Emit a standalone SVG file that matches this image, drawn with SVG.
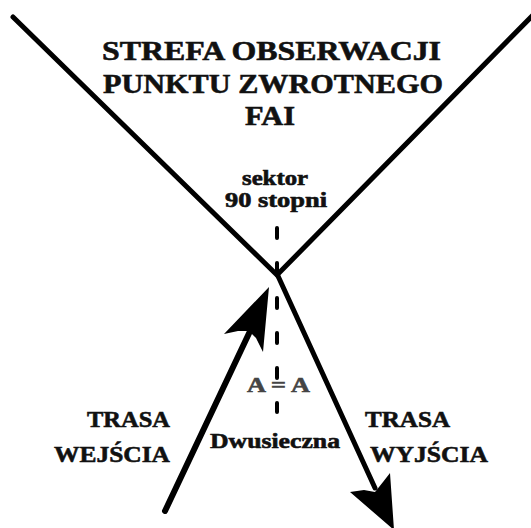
<svg xmlns="http://www.w3.org/2000/svg" width="531" height="528" viewBox="0 0 531 528">
<style>
text{font-family:'Liberation Serif','Times New Roman',serif;font-weight:700;fill:#111;stroke:#111;stroke-width:0.6;}
.ln{fill:none;stroke:#000;stroke-linecap:round;stroke-linejoin:miter;}
.ah{fill:#000;stroke:none;}
</style>
<rect width="531" height="528" fill="#fff"/>
<g id="connectors">
  <polyline class="ln" points="13,17 277,275 536,12" stroke-width="5"/>
  <line class="ln" x1="277" y1="228" x2="277" y2="412" stroke-width="4" stroke-dasharray="10 25" stroke-linecap="butt"/>
  <line class="ln" x1="165" y1="511" x2="252" y2="327" stroke-width="6"/>
  <path class="ah" d="M269,287 L263,352 L256,338 L249,331 L238,331 L224,334 Z"/>
  <line class="ln" x1="278" y1="276" x2="375" y2="488" stroke-width="5"/>
  <path class="ah" d="M394,530 L350,492 L364,490 L375,492 L383,482 L390,473 Z"/>
</g>
<g id="title">
  <text x="102" y="60" font-size="28" textLength="339" lengthAdjust="spacingAndGlyphs">STREFA  OBSERWACJI</text>
  <text x="103" y="93" font-size="28" textLength="340" lengthAdjust="spacingAndGlyphs">PUNKTU ZWROTNEGO</text>
  <text x="245" y="125" font-size="28" textLength="50" lengthAdjust="spacingAndGlyphs">FAI</text>
</g>
<g id="sektor">
  <text x="242" y="185" font-size="20" textLength="66" lengthAdjust="spacingAndGlyphs">sektor</text>
  <text x="225" y="207" font-size="20" textLength="102" lengthAdjust="spacingAndGlyphs">90 stopni</text>
</g>
<g id="angles">
  <text x="247" y="392" font-size="20" style="fill:#444;stroke:#444" textLength="63" lengthAdjust="spacingAndGlyphs">A = A</text>
</g>
<g id="bisector">
  <text x="210" y="448" font-size="22" textLength="130" lengthAdjust="spacingAndGlyphs">Dwusieczna</text>
</g>
<g id="entry">
  <text x="87" y="427" font-size="24" textLength="83" lengthAdjust="spacingAndGlyphs">TRASA</text>
  <text x="54" y="462" font-size="24" textLength="116" lengthAdjust="spacingAndGlyphs">WEJŚCIA</text>
</g>
<g id="exit">
  <text x="365" y="427" font-size="24" textLength="85" lengthAdjust="spacingAndGlyphs">TRASA</text>
  <text x="370" y="462" font-size="24" textLength="118" lengthAdjust="spacingAndGlyphs">WYJŚCIA</text>
</g>
</svg>
